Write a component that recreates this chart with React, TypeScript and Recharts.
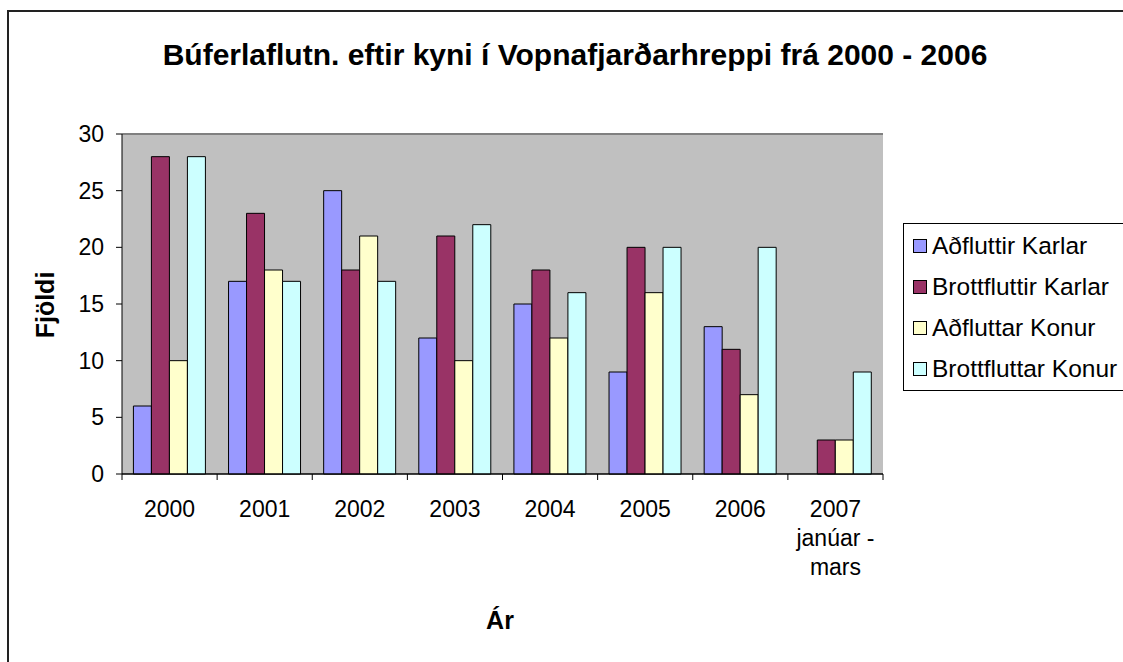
import { BarChart, Bar, XAxis, YAxis, CartesianGrid, ReferenceLine } from 'recharts'

const years = ['2000', '2001', '2002', '2003', '2004', '2005', '2006', '2007 janúar - mars']
const adfluttirKarlar = [6, 17, 25, 12, 15, 9, 13, 0]
const brottfluttirKarlar = [28, 23, 18, 21, 18, 20, 11, 3]
const adfluttarKonur = [10, 18, 21, 10, 12, 16, 7, 3]
const brottfluttarKonur = [28, 17, 17, 22, 16, 20, 20, 9]
const yTicks = [0, 5, 10, 15, 20, 25, 30]

const series = [
  { key: 'Aðfluttir Karlar', values: adfluttirKarlar, color: '#9999FF' },
  { key: 'Brottfluttir Karlar', values: brottfluttirKarlar, color: '#993366' },
  { key: 'Aðfluttar Konur', values: adfluttarKonur, color: '#FFFFCC' },
  { key: 'Brottfluttar Konur', values: brottfluttarKonur, color: '#CCFFFF' },
]

const data = years.map((y, i) => {
  const row: Record<string, string | number> = { year: y }
  series.forEach(s => { row[s.key] = s.values[i] })
  return row
})

const FONT = '"Liberation Sans", Arial, sans-serif'
const BAND = 761 / years.length

function YearTick(props: any) {
  const { x, y, payload, index } = props
  const label: string = payload.value
  const lines = label.startsWith('2007') ? ['2007', 'janúar -', 'mars'] : [label]
  return (
    <g>
      <line x1={x - BAND / 2} y1={y - 8} x2={x - BAND / 2} y2={y - 2} stroke="#000" />
      {index === years.length - 1 && (
        <line x1={x + BAND / 2} y1={y - 8} x2={x + BAND / 2} y2={y - 2} stroke="#000" />
      )}
      {lines.map((t, i) => (
        <text key={i} x={x} y={y + 35 + i * 29} textAnchor="middle" fontSize={23} fontFamily={FONT} fill="#000">
          {t}
        </text>
      ))}
    </g>
  )
}

function LegendBox() {
  return (
    <div style={{ position: 'absolute', left: 903, top: 223, width: 260, border: '1px solid #000', background: '#fff', padding: '1px 0 1px 9px', fontFamily: FONT, fontSize: 24.5 }}>
      {series.map(s => (
        <div key={s.key} style={{ display: 'flex', alignItems: 'center', height: 41 }}>
          <span style={{ display: 'inline-block', width: 12, height: 12, background: s.color, border: '1px solid #000', marginRight: 5 }} />
          <span style={{ whiteSpace: 'nowrap' }}>{s.key}</span>
        </div>
      ))}
    </div>
  )
}

export default function App() {
  return (
    <div style={{ position: 'absolute', left: 0, top: 0, width: 1123, height: 662, background: '#fff', overflow: 'hidden', fontFamily: FONT }}>
      <div style={{ position: 'absolute', left: 7, top: 10, width: 1200, height: 700, border: '2px solid #222' }} />
      <div style={{ position: 'absolute', left: 0, top: 38, width: 1150, textAlign: 'center', fontSize: 30, fontWeight: 'bold' }}>
        Búferlaflutn. eftir kyni í Vopnafjarðarhreppi frá 2000 - 2006
      </div>
      <div style={{ position: 'absolute', left: 45, top: 305, transform: 'translate(-50%, -50%) rotate(-90deg)', fontSize: 25, fontWeight: 'bold', whiteSpace: 'nowrap' }}>
        Fjöldi
      </div>
      <div style={{ position: 'absolute', left: 500, top: 620, transform: 'translate(-50%, -50%)', fontSize: 25, fontWeight: 'bold' }}>
        Ár
      </div>
      <div style={{ position: 'absolute', left: 0, top: 0 }}>
        <BarChart width={1123} height={662} data={data} margin={{ top: 134, right: 240, left: 42, bottom: 88 }}
          barCategoryGap="12%" barGap={0}>
          <CartesianGrid vertical={false} stroke="#000" fill="#C0C0C0" fillOpacity={1} />
          <XAxis dataKey="year" height={100} tick={<YearTick />} tickLine={false} axisLine={{ stroke: '#000' }} interval={0} />
          <YAxis yAxisId="l" domain={[0, 30]} ticks={yTicks} width={80} tickSize={6} tickMargin={12}
            tick={{ fontSize: 23, fontFamily: FONT, fill: '#000' }} tickLine={{ stroke: '#000' }} axisLine={{ stroke: '#000' }} />
          <YAxis yAxisId="r" orientation="right" domain={[0, 30]} width={0} tick={false} tickLine={false} axisLine={{ stroke: '#808080', strokeWidth: 2 }} />
          <ReferenceLine yAxisId="l" y={30} stroke="#808080" strokeWidth={2} />
          {series.map(s => (
            <Bar key={s.key} yAxisId="l" dataKey={s.key} fill={s.color} stroke="#000" strokeWidth={1} isAnimationActive={false} />
          ))}
        </BarChart>
      </div>
      <LegendBox />
    </div>
  )
}
